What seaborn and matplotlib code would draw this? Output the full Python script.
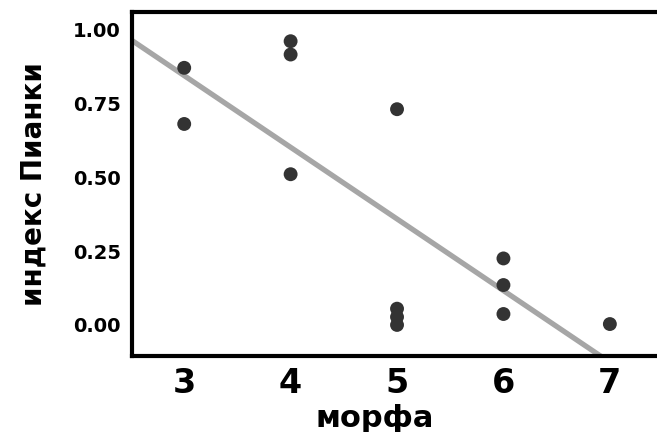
import pandas as pd
import numpy as np
import matplotlib
matplotlib.use('Agg')
import matplotlib.pyplot as plt
import seaborn as sns

# Data
morpha = [3, 3, 4, 4, 4, 5, 5, 5, 5, 6, 6, 6, 7]
pianka = [0.87, 0.68, 0.96, 0.915, 0.51, 0.73, 0.055, 0.027, 0.0, 0.225, 0.135, 0.037, 0.003]
x_ticks = [3, 4, 5, 6, 7]
y_ticks = [0.00, 0.25, 0.50, 0.75, 1.00]

df = pd.DataFrame({'морфа': morpha, 'индекс Пианки': pianka})

sns.set_theme(style="white")
plt.rcParams['font.family'] = ['DejaVu Sans']
plt.rcParams['text.color'] = 'black'
plt.rcParams['xtick.color'] = 'black'
plt.rcParams['ytick.color'] = 'black'
plt.rcParams['axes.labelcolor'] = 'black'

fig = plt.figure(figsize=(6.57, 4.32), dpi=100)
ax = fig.add_axes([0.201, 0.176, 0.805, 0.797])

# limits first, so the untruncated fit spans the whole axis
ax.set_xlim(2.51, 7.48)
ax.set_ylim(-0.105, 1.06)

sns.regplot(data=df, x='морфа', y='индекс Пианки', ci=None, truncate=False,
            scatter=False, color='#a6a6a6', line_kws={'linewidth': 3.8}, ax=ax)
sns.scatterplot(data=df, x='морфа', y='индекс Пианки', color='#333333',
                s=100, edgecolor='none', ax=ax, zorder=3)

ax.set_xlim(2.51, 7.48)
ax.set_ylim(-0.105, 1.06)
ax.set_xticks(x_ticks)
ax.set_yticks(y_ticks)
ax.set_xticklabels([str(t) for t in x_ticks], fontsize=24, fontweight='bold')
ax.set_yticklabels([f'{t:.2f}' for t in y_ticks], fontsize=14, fontweight='bold')
ax.tick_params(length=0, pad=8)

ax.set_xlabel('морфа', fontsize=22, fontweight='bold')
ax.xaxis.set_label_coords(0.459, -0.14)
ax.set_ylabel('индекс Пианки', fontsize=20, fontweight='bold', labelpad=18)

for side in ['left', 'bottom', 'top', 'right']:
    ax.spines[side].set_color('black')
    ax.spines[side].set_linewidth(3)

plt.savefig('out.png', dpi=100)
plt.close()
